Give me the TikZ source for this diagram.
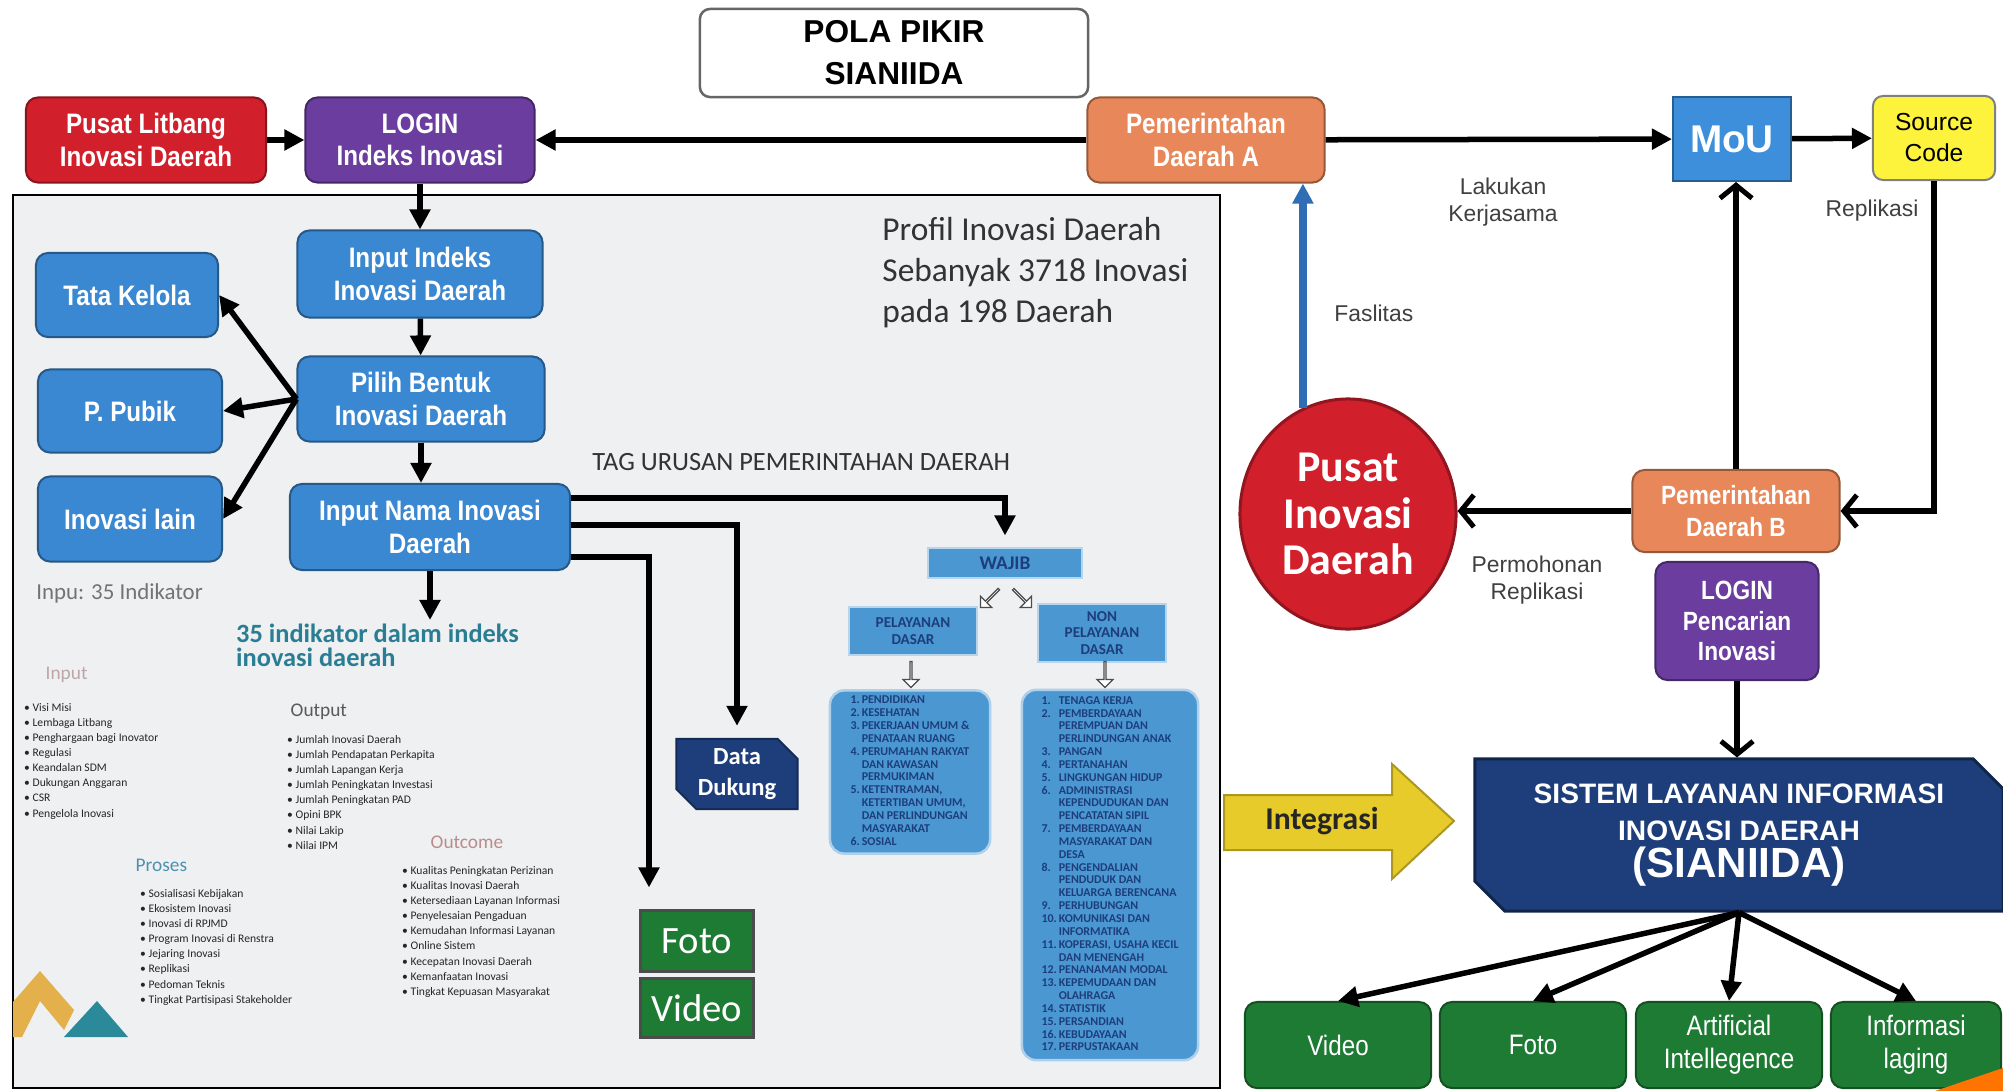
\documentclass[tikz,border=0pt]{standalone}
\usepackage{fontspec}
\setmainfont{Liberation Sans}
\newfontfamily\narrowsf[FakeStretch=0.86]{Liberation Sans}
\newfontfamily\calibri{Carlito}
\usetikzlibrary{arrows.meta,shapes.geometric,shapes.misc,shapes.arrows}

\definecolor{boxblue}{HTML}{3A87D2}
\definecolor{litred}{HTML}{D11F2C}
\definecolor{logpurple}{HTML}{6A3D9E}
\definecolor{pemorange}{HTML}{E8885A}
\definecolor{moublue}{HTML}{3D8FDC}
\definecolor{srcyellow}{HTML}{FDF23C}
\definecolor{navy}{HTML}{1D3E7B}
\definecolor{dkgreen}{HTML}{1E7B34}
\definecolor{wajblue}{HTML}{4A97D2}
\definecolor{panelgray}{HTML}{EEF0F1}
\definecolor{tealtxt}{HTML}{2A7E93}
\definecolor{intyellow}{HTML}{E6CB2B}
\definecolor{faslblue}{HTML}{2F6DB5}
\definecolor{decogold}{HTML}{E3B04B}
\definecolor{decoteal}{HTML}{2B8A9A}

\begin{document}
\begin{tikzpicture}[x=0.01cm, y=-0.01cm,
    flowbox/.style={draw=#1!65!black, fill=#1, line width=0.02cm, rounded corners=0.12cm, text=white, align=center, inner sep=1pt, font=\narrowsf\bfseries\fontsize{8}{9.2}\selectfont},
    conn/.style={line width=0.055cm, -{Triangle[length=0.2cm,width=0.2cm]}},
    openconn/.style={line width=0.055cm, -{Straight Barb[length=0.13cm,width=0.32cm,line width=0.05cm]}},
    note/.style={font=\fontsize{6.5}{7.8}\selectfont, text=black!75, align=center},
    tagbox/.style={draw=white!60!wajblue, fill=wajblue, line width=0.02cm, text=navy, align=center, inner sep=0pt, font=\calibri\bfseries\fontsize{4.3}{4.8}\selectfont},
    listbox/.style={draw=white!55!wajblue, fill=wajblue, line width=0.025cm, rounded corners=0.14cm, text=navy, align=left, inner sep=0pt, font=\calibri\bfseries\fontsize{3.4}{3.65}\selectfont},
    hollowarrow/.style={single arrow, draw=black!70, fill=white, line width=0.012cm, minimum height=0.26cm, minimum width=0.16cm, single arrow head extend=0.04cm, inner sep=0pt},
    itemlist/.style={anchor=north west, align=left, inner sep=1pt, text=black!85, font=\calibri\fontsize{3.3}{4.3}\selectfont},
    heading/.style={anchor=west, inner sep=0pt, font=\calibri\fontsize{5.5}{6}\selectfont}
  ]
  % Background and the panel on the left
  \fill[white] (0,0) rectangle (2003,1091);
  \useasboundingbox (0,0) rectangle (2003,1091);
  \draw[line width=0.02cm, fill=panelgray] (13,195) rectangle (1220,1088);

  % Title
  \node[draw=black!60, line width=0.025cm, rounded corners=0.1cm, fill=white, minimum width=3.88cm, minimum height=0.86cm, align=center, font=\bfseries\fontsize{9}{12}\selectfont] (title) at (894,53) {POLA PIKIR\\SIANIIDA};

  % Top row
  \node[flowbox=litred, minimum width=2.4cm, minimum height=0.85cm] (litbang) at (146,140) {Pusat Litbang\\Inovasi Daerah};
  \node[flowbox=logpurple, minimum width=2.29cm, minimum height=0.85cm] (loginA) at (420,140) {LOGIN\\Indeks Inovasi};
  \node[flowbox=pemorange, minimum width=2.37cm, minimum height=0.85cm] (pemA) at (1206,140) {Pemerintahan\\Daerah A};
  \node[flowbox=moublue, rounded corners=0pt, minimum width=1.18cm, minimum height=0.84cm, font=\bfseries\fontsize{11}{12}\selectfont] (mou) at (1732,139) {MoU};
  \node[draw=black!50, fill=srcyellow, rounded corners=0.1cm, line width=0.02cm, minimum width=1.22cm, minimum height=0.84cm, align=center, font=\fontsize{7}{8.8}\selectfont] (source) at (1934,138) {Source\\Code};

  % Boxes inside the panel
  \node[flowbox=boxblue, minimum width=2.45cm, minimum height=0.87cm] (inIndeks) at (420,274) {Input Indeks\\Inovasi Daerah};
  \node[flowbox=boxblue, minimum width=2.47cm, minimum height=0.85cm] (pilih) at (421,399) {Pilih Bentuk\\Inovasi Daerah};
  \node[flowbox=boxblue, minimum width=2.8cm, minimum height=0.86cm] (inNama) at (430,527) {Input Nama Inovasi\\Daerah};
  \node[flowbox=boxblue, minimum width=1.82cm, minimum height=0.84cm] (tata) at (127,295) {Tata Kelola};
  \node[flowbox=boxblue, minimum width=1.84cm, minimum height=0.83cm] (pubik) at (130,411) {P. Pubik};
  \node[flowbox=boxblue, minimum width=1.84cm, minimum height=0.85cm] (lain) at (130,519) {Inovasi lain};
  \node[anchor=west, text=black!55, font=\calibri\fontsize{6.5}{7.5}\selectfont] (inpu) at (24,593) {Inpu: 35 Indikator};

  % Profil text and tag
  \node[anchor=north west, align=left, text=black!80, font=\calibri\fontsize{9.5}{11.6}\selectfont] (profil) at (870,205) {Profil Inovasi Daerah\\Sebanyak 3718 Inovasi\\pada 198 Daerah};
  \node[anchor=west, text=black!80, font=\calibri\fontsize{7.5}{9}\selectfont] (tag) at (580,462) {TAG URUSAN PEMERINTAHAN DAERAH};

  % 35 indikator
  \node[anchor=north west, align=left, inner sep=1pt, text=tealtxt, font=\calibri\bfseries\fontsize{7.5}{6.9}\selectfont] (ind35) at (232,620) {35 indikator dalam indeks\\inovasi daerah};
  \node[heading, text=red!25!black!35] (hinput) at (45,675) {Input};
  \node[itemlist] (linput) at (20,699) {\textbullet\ Visi Misi\\\textbullet\ Lembaga Litbang\\\textbullet\ Penghargaan bagi Inovator\\\textbullet\ Regulasi\\\textbullet\ Keandalan SDM\\\textbullet\ Dukungan Anggaran\\\textbullet\ CSR\\\textbullet\ Pengelola Inovasi};
  \node[heading, text=black!65] (houtput) at (290,712) {Output};
  \node[itemlist] (loutput) at (283,731) {\textbullet\ Jumlah Inovasi Daerah\\\textbullet\ Jumlah Pendapatan Perkapita\\\textbullet\ Jumlah Lapangan Kerja\\\textbullet\ Jumlah Peningkatan Investasi\\\textbullet\ Jumlah Peningkatan PAD\\\textbullet\ Opini BPK\\\textbullet\ Nilai Lakip\\\textbullet\ Nilai IPM};
  \node[heading, text=blue!30!cyan!55!black!70] (hproses) at (135,865) {Proses};
  \node[itemlist] (lproses) at (136,885) {\textbullet\ Sosialisasi Kebijakan\\\textbullet\ Ekosistem Inovasi\\\textbullet\ Inovasi di RPJMD\\\textbullet\ Program Inovasi di Renstra\\\textbullet\ Jejaring Inovasi\\\textbullet\ Replikasi\\\textbullet\ Pedoman Teknis\\\textbullet\ Tingkat Partisipasi Stakeholder};
  \node[heading, text=red!40!black!45] (houtcome) at (430,842) {Outcome};
  \node[itemlist] (loutcome) at (398,862) {\textbullet\ Kualitas Peningkatan Perizinan\\\textbullet\ Kualitas Inovasi Daerah\\\textbullet\ Ketersediaan Layanan Informasi\\\textbullet\ Penyelesaian Pengaduan\\\textbullet\ Kemudahan Informasi Layanan\\\textbullet\ Online Sistem\\\textbullet\ Kecepatan Inovasi Daerah\\\textbullet\ Kemanfaatan Inovasi\\\textbullet\ Tingkat Kepuasan Masyarakat};

  % Decoration bottom left
  \fill[decogold] (13,1037) -- (13,1002) -- (40,971) -- (74,1010) -- (64,1030) -- (40,1001) -- (22,1037) -- cycle;
  \fill[decoteal] (64,1037) -- (97,1001) -- (128,1037) -- cycle;

  % Data Dukung, Foto, Video
  \node[chamfered rectangle, chamfered rectangle corners={north east,south west}, chamfered rectangle sep=0.1cm, draw=navy!70!black, fill=navy, line width=0.02cm, minimum width=1.21cm, minimum height=0.66cm, text=white, align=center, inner sep=0pt, font=\calibri\bfseries\fontsize{7}{8.6}\selectfont] (dukung) at (737,774) {Data\\Dukung};
  \node[draw=black!70, fill=dkgreen, line width=0.03cm, minimum width=1.13cm, minimum height=0.6cm, text=white, inner sep=0pt, font=\calibri\fontsize{11}{12}\selectfont] (lfoto) at (697,941) {Foto};
  \node[draw=black!70, fill=dkgreen, line width=0.03cm, minimum width=1.13cm, minimum height=0.59cm, text=white, inner sep=0pt, font=\calibri\fontsize{11}{12}\selectfont] (lvideo) at (697,1008) {Video};

  % WAJIB tree
  \node[tagbox, minimum width=1.54cm, minimum height=0.29cm, font=\calibri\bfseries\fontsize{5.5}{6}\selectfont] (wajib) at (1005,563) {WAJIB};
  \node[tagbox, minimum width=1.28cm, minimum height=0.48cm] (pdasar) at (913,631) {PELAYANAN\\DASAR};
  \node[tagbox, minimum width=1.27cm, minimum height=0.58cm] (npdasar) at (1102,633) {NON\\PELAYANAN\\DASAR};
  \node[hollowarrow, rotate=-135] (h1) at (990,598) {};
  \node[hollowarrow, rotate=-45] (h2) at (1022,598) {};
  \node[hollowarrow, rotate=-90] (h3) at (911,674) {};
  \node[hollowarrow, rotate=-90] (h4) at (1105,674) {};
  \node[listbox, minimum width=1.6cm, minimum height=1.63cm] (lista) at (910,772) {\begin{tabular}{@{}l@{\,}l@{}}
    1. & PENDIDIKAN\\
    2. & KESEHATAN\\
    3. & PEKERJAAN UMUM \&\\
       & PENATAAN RUANG\\
    4. & PERUMAHAN RAKYAT\\
       & DAN KAWASAN\\
       & PERMUKIMAN\\
    5. & KETENTRAMAN,\\
       & KETERTIBAN UMUM,\\
       & DAN PERLINDUNGAN\\
       & MASYARAKAT\\
    6. & SOSIAL
  \end{tabular}};
  \node[listbox, minimum width=1.76cm, minimum height=3.7cm] (listb) at (1110,875) {\begin{tabular}{@{}l@{\,}l@{}}
    1. & TENAGA KERJA\\
    2. & PEMBERDAYAAN\\
       & PEREMPUAN DAN\\
       & PERLINDUNGAN ANAK\\
    3. & PANGAN\\
    4. & PERTANAHAN\\
    5. & LINGKUNGAN HIDUP\\
    6. & ADMINISTRASI\\
       & KEPENDUDUKAN DAN\\
       & PENCATATAN SIPIL\\
    7. & PEMBERDAYAAN\\
       & MASYARAKAT DAN\\
       & DESA\\
    8. & PENGENDALIAN\\
       & PENDUDUK DAN\\
       & KELUARGA BERENCANA\\
    9. & PERHUBUNGAN\\
    10. & KOMUNIKASI DAN\\
        & INFORMATIKA\\
    11. & KOPERASI, USAHA KECIL\\
        & DAN MENENGAH\\
    12. & PENANAMAN MODAL\\
    13. & KEPEMUDAAN DAN\\
        & OLAHRAGA\\
    14. & STATISTIK\\
    15. & PERSANDIAN\\
    16. & KEBUDAYAAN\\
    17. & PERPUSTAKAAN
  \end{tabular}};

  % Right part
  \node[ellipse, draw=litred!70!black, fill=litred, line width=0.03cm, minimum width=2.16cm, minimum height=2.3cm, text=white, align=center, inner sep=0pt, font=\calibri\bfseries\fontsize{12.5}{13.2}\selectfont] (pusat) at (1348,514) {Pusat\\Inovasi\\Daerah};
  \node[flowbox=pemorange, minimum width=2.07cm, minimum height=0.82cm, font=\narrowsf\bfseries\fontsize{7.5}{9}\selectfont] (pemB) at (1736,511) {Pemerintahan\\Daerah B};
  \node[flowbox=logpurple, minimum width=1.63cm, minimum height=1.18cm, font=\narrowsf\bfseries\fontsize{7.5}{8.7}\selectfont] (loginB) at (1737,621) {LOGIN\\Pencarian\\Inovasi};
  \node[chamfered rectangle, chamfered rectangle corners={north east,south west}, chamfered rectangle sep=0.15cm, draw=navy!60!black, fill=navy, line width=0.03cm, minimum width=5.28cm, minimum height=1.52cm, text=white, align=center, inner sep=0pt, font=\bfseries\fontsize{8}{10.5}\selectfont] (sianiida) at (1739,835) {SISTEM LAYANAN INFORMASI\\INOVASI DAERAH\\{\fontsize{12}{13}\selectfont (SIANIIDA)}};

  % Integrasi arrow
  \draw[fill=intyellow, draw=intyellow!75!black, line width=0.02cm] (1224,795) -- (1392,795) -- (1392,764) -- (1454,821) -- (1392,879) -- (1392,850) -- (1224,850) -- cycle;
  \node[font=\calibri\bfseries\fontsize{9}{10}\selectfont, text=black!85] (integ) at (1322,821) {Integrasi};

  % Green boxes
  \node[flowbox=dkgreen, minimum width=1.86cm, minimum height=0.86cm, font=\narrowsf\fontsize{8}{9.5}\selectfont] (gvideo) at (1338,1045) {Video};
  \node[flowbox=dkgreen, minimum width=1.86cm, minimum height=0.86cm, font=\narrowsf\fontsize{8}{9.5}\selectfont] (gfoto) at (1533,1045) {Foto};
  \node[flowbox=dkgreen, minimum width=1.86cm, minimum height=0.86cm, font=\narrowsf\fontsize{8}{9.5}\selectfont] (gai) at (1729,1045) {Artificial\\Intellegence};
  \node[flowbox=dkgreen, minimum width=1.7cm, minimum height=0.86cm, font=\narrowsf\fontsize{8}{9.5}\selectfont] (ginfo) at (1916,1045) {Informasi\\laging};
  \fill[orange!90!red] (1935,1091) -- (2003,1068) -- (2003,1091) -- cycle;

  % Labels
  \node[note, anchor=west] (fasl) at (1322,313) {Faslitas};
  \node[note] (lakukan) at (1503,202) {Lakukan\\Kerjasama};
  \node[note] (repl) at (1872,211) {Replikasi};
  \node[note] (permohonan) at (1537,580) {Permohonan\\Replikasi};

  % Connectors
  \draw[conn] (litbang) -- (loginA);
  \draw[conn] (pemA) -- (loginA);
  \draw[conn] (pemA) -- (mou);
  \draw[conn] (mou) -- (source);
  \draw[conn] (loginA) -- (inIndeks);
  \draw[conn] (inIndeks) -- (pilih);
  \draw[conn] (pilih.south) -- (pilih.south |- inNama.north);
  \draw[conn] (pilih.west) -- (tata.east);
  \draw[conn] (pilih.west) -- (pubik.east);
  \draw[conn] (pilih.west) -- (lain.east);
  \draw[conn] (inNama.south) -- (inNama.south |- ind35.north);
  \draw[conn, shorten >=0.12cm] ([yshift=0.29cm]inNama.east) -| (wajib.north);
  \draw[conn, shorten >=0.12cm] ([yshift=0.02cm]inNama.east) -| (dukung.north);
  \draw[conn, shorten >=0.22cm] ([yshift=-0.3cm]inNama.east) -| ([xshift=-0.48cm]lfoto.north);
  \draw[conn, faslblue, line width=0.08cm] (pusat.113) -- (pusat.113 |- pemA.south);
  \draw[openconn] (pemB.north) -- (pemB.north |- mou.south);
  \draw[openconn] (source.south) |- (pemB.east);
  \draw[openconn] (pemB.west) -- (pemB.west -| pusat.east);
  \draw[openconn] (loginB.south) -- (loginB.south |- sianiida.north);
  \draw[conn] (sianiida.south) -- (gvideo.north);
  \draw[conn] (sianiida.south) -- (gfoto.north);
  \draw[conn] (sianiida.south) -- (gai.north);
  \draw[conn] (sianiida.south) -- (ginfo.north);
\end{tikzpicture}
\end{document}
